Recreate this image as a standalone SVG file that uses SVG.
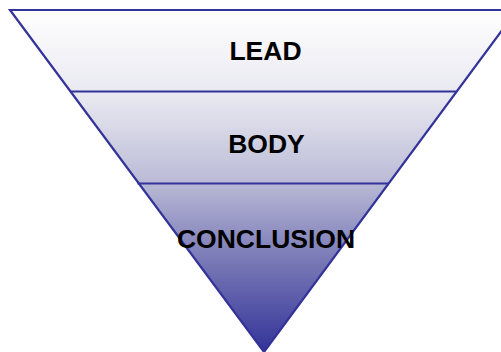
<svg xmlns="http://www.w3.org/2000/svg" width="501" height="352" viewBox="0 0 501 352">
  <defs>
    <linearGradient id="funnelFill" x1="0" y1="10" x2="0" y2="352" gradientUnits="userSpaceOnUse">
      <stop offset="0" stop-color="#ffffff"/>
      <stop offset="0.26" stop-color="#e7e7f0"/>
      <stop offset="0.49" stop-color="#bdbdd8"/>
      <stop offset="0.75" stop-color="#7474b4"/>
      <stop offset="1" stop-color="#333399"/>
    </linearGradient>
  </defs>
  <style>
    .edge { stroke: #333399; stroke-width: 2.2; fill: none; }
    .label { font-family: "Liberation Sans", Arial, sans-serif; font-weight: bold; font-size: 26.5px; fill: #000000; text-anchor: middle; }
  </style>

  <!-- inverted triangle body -->
  <g id="funnel">
    <polygon points="10,10 517,10 264,352" fill="url(#funnelFill)"/>
    <polygon class="edge" points="10,10 517,10 264,352" stroke-linejoin="miter"/>
  </g>

  <!-- section dividers -->
  <g id="dividers">
    <line class="edge" x1="70" y1="91.5" x2="456" y2="91.5"/>
    <line class="edge" x1="137.5" y1="183.5" x2="388.5" y2="183.5"/>
  </g>

  <g id="lead">
    <text class="label" x="265.5" y="60">LEAD</text>
  </g>
  <g id="body">
    <text class="label" x="266.5" y="153">BODY</text>
  </g>
  <g id="conclusion">
    <text class="label" x="266" y="248">CONCLUSION</text>
  </g>
</svg>
